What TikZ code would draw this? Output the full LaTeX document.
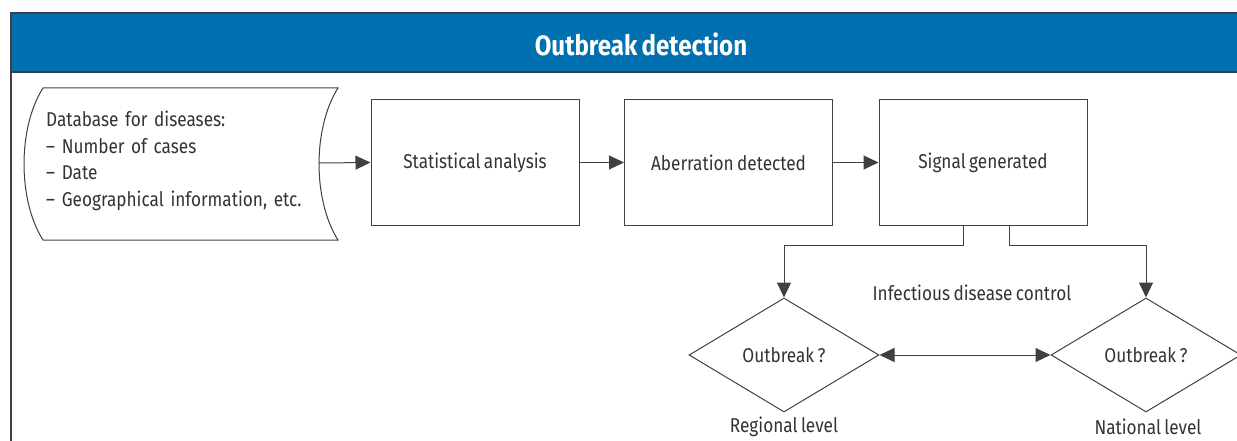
\documentclass[tikz,border=0pt]{standalone}
\usepackage{fontspec}
\setmainfont[FakeStretch=0.86,WordSpace=0.75]{Fira Sans}
\usetikzlibrary{arrows.meta,shapes.geometric}
\definecolor{hdrblue}{RGB}{0,112,176}
\definecolor{lnc}{RGB}{64,64,64}
\definecolor{txc}{RGB}{51,51,51}
\tikzset{
  boxnode/.style={draw=lnc, line width=1pt, minimum width=208pt, minimum height=125pt, inner sep=0pt, font=\fontsize{20}{22}\selectfont, text=txc},
  decnode/.style={draw=lnc, line width=1pt, diamond, minimum width=190pt, minimum height=114pt, inner sep=0pt, aspect=1.67, font=\fontsize{20}{22}\selectfont, text=txc},
  lbl/.style={font=\fontsize{20}{22}\selectfont, text=txc, inner sep=0pt},
  conn/.style={draw=lnc, line width=1pt, -{Triangle[length=15pt,width=14pt]}},
}
\begin{document}
\begin{tikzpicture}[x=1pt,y=-1pt]
\useasboundingbox (0,0) rectangle (1237,441);
\clip (0,0) rectangle (1237,441);
% frame and header
\fill[hdrblue] (11,13) rectangle (1250,72);
\draw[lnc, line width=1.5pt] (11,460) -- (11,13) -- (1250,13);
\draw[lnc, line width=1.5pt] (11,72) -- (1250,72);
\node[font=\fontsize{28}{30}\selectfont\bfseries, text=white] (title) at (641,44) {Outbreak detection};
% database shape
\draw[lnc, line width=1pt] (43,88) -- (338,88) .. controls (312.7,128) and (312.7,200) .. (338,240)
  -- (43,240) .. controls (17.7,200) and (17.7,128) .. (43,88) -- cycle;
\coordinate (dbout) at (319,163);
\node[lbl, anchor=west, align=left, text width=280pt] (db) at (46,161) {%
  Database for diseases:\\[4.5pt]
  -- Number of cases\\[4.5pt]
  -- Date\\[4.5pt]
  -- Geographical information, etc.};
% process boxes
\node[boxnode] (s1) at (475,162.5) {Statistical analysis};
\node[boxnode] (s2) at (728.5,162.5) {Aberration detected};
\node[boxnode] (s3) at (983,162.5) {Signal generated};
\draw[conn] (dbout) -- (s1.west);
\draw[conn] (s1.east) -- (s2.west);
\draw[conn] (s2.east) -- (s3.west);
% decisions
\node[decnode] (d1) at (784,355) {Outbreak ?};
\node[decnode] (d2) at (1146,355) {Outbreak ?};
\draw[conn] (s3.south -| 963,0) -- (963,245) -| (d1.north);
\draw[conn] (s3.south -| 1009,0) -- (1009,245) -| (d2.north);
\draw[draw=lnc, line width=1pt, {Triangle[length=15pt,width=14pt]}-{Triangle[length=15pt,width=14pt]}] (d1.east) -- (d2.west);
\node[lbl] (idc) at (972,293) {Infectious disease control};
\node[lbl] (reg) at (784,427) {Regional level};
\node[lbl] (nat) at (1148,427) {National level};
\end{tikzpicture}
\end{document}
